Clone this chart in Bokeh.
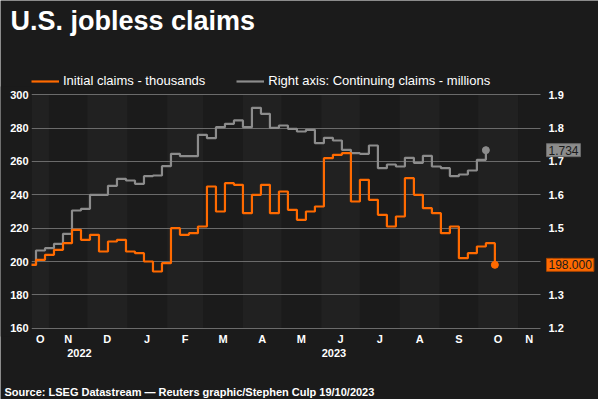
from datetime import datetime
import pandas as pd
from bokeh.plotting import figure
from bokeh.models import (Range1d, LinearAxis, FixedTicker, Label, Legend, LegendItem,
                          BoxAnnotation, ColumnDataSource, CustomJSTickFormatter)
from bokeh.embed import file_html
from bokeh.resources import INLINE

# ---------------- data ----------------
TITLE = "U.S. jobless claims"
SOURCE = "Source: LSEG Datastream \u2014 Reuters graphic/Stephen Culp 19/10/2023"
LEGEND_LABELS = ["Initial claims - thousands", "Right axis: Continuing claims - millions"]
FIRST_WEEK = "2022-10-15"   # weekly, week-ending dates

initial_claims = [198, 201, 204, 207, 211, 219, 213, 216, 206, 212, 213, 206, 205, 200,
                  194, 199, 220, 216, 217, 221, 245, 230, 247, 246, 229, 240, 246, 229,
                  242, 231, 225, 230, 233, 262, 264, 265, 236, 249, 237, 228, 221, 227,
                  250, 240, 232, 229, 217, 221, 202, 205, 209, 211, 198]
continuing_claims = [1.390, 1.433, 1.440, 1.453, 1.483, 1.553, 1.558, 1.600, 1.600, 1.627,
                     1.648, 1.643, 1.633, 1.656, 1.658, 1.686, 1.723, 1.716, 1.716, 1.780,
                     1.770, 1.803, 1.813, 1.823, 1.803, 1.861, 1.843, 1.801, 1.808, 1.798,
                     1.790, 1.795, 1.755, 1.771, 1.763, 1.735, 1.725, 1.723, 1.748, 1.680,
                     1.691, 1.685, 1.711, 1.696, 1.717, 1.685, 1.680, 1.656, 1.661, 1.673,
                     1.705, 1.734]
left_ticks = [160, 180, 200, 220, 240, 260, 280, 300]
right_ticks = [1.2, 1.3, 1.4, 1.5, 1.6, 1.7, 1.8, 1.9]
month_letters = ["O", "N", "D", "J", "F", "M", "A", "M", "J", "J", "A", "S", "O", "N"]
year_labels = ["2022", "2023"]

weeks_init = pd.date_range(FIRST_WEEK, periods=len(initial_claims), freq="7D")
weeks_cont = weeks_init[:len(continuing_claims)]

X_PLOT_START = datetime(2022, 10, 18, 12)
X_PLOT_END = datetime(2023, 11, 18, 12)
EPOCH = datetime(1970, 1, 1)


def ms(d):
    return (pd.Timestamp(d).to_pydatetime() - EPOCH).total_seconds() * 1000.0


# ---------------- layout & style ----------------
W, H = 598, 399
PL, PR, PT, PB = 31.0, 540.0, 94.3, 327.7      # plot area in canvas pixels

BG = "#1b1b1b"
BAND = "#212121"
GRID = "#6b6b6b"
ORANGE = "#ff6a00"
GRAY = "#8c8c8c"
FONT = "Liberation Sans"

xs, xe = ms(X_PLOT_START), ms(X_PLOT_END)
ms_per_px = (xe - xs) / (PR - PL)
x_range = Range1d(xs - PL * ms_per_px, xe + (W - PR) * ms_per_px)

ly0, ly1 = left_ticks[0], left_ticks[-1]
lupp = (ly1 - ly0) / (PB - PT)
y_range = Range1d(ly0 - (H - PB) * lupp, ly1 + PT * lupp)

ry0, ry1 = right_ticks[0], right_ticks[-1]
rupp = (ry1 - ry0) / (PB - PT)
right_range = Range1d(ry0 - (H - PB) * rupp, ry1 + PT * rupp)

p = figure(width=W, height=H, x_axis_type="datetime", title=None,
           x_range=x_range, y_range=y_range,
           output_backend="svg", toolbar_location=None,
           min_border=0, min_border_left=0, min_border_right=0,
           min_border_top=0, min_border_bottom=0,
           background_fill_color=BG, border_fill_color=BG,
           outline_line_color=None)
p.extra_y_ranges = {"right": right_range}

# month bands
month_starts = pd.date_range("2022-10-01", periods=len(month_letters) + 1, freq="MS")
for i in range(len(month_letters)):
    if i % 2 == 0:
        p.add_layout(BoxAnnotation(left=max(ms(month_starts[i]), xs),
                                   right=min(ms(month_starts[i + 1]), xe),
                                   top=ly1, bottom=ly0,
                                   fill_color=BAND, fill_alpha=1, line_alpha=0, level="image"))

# grid
p.xgrid.visible = False
p.ygrid.ticker = FixedTicker(ticks=left_ticks)
p.ygrid.grid_line_color = GRID
p.ygrid.grid_line_width = 1
p.ygrid.cross_bounds = (xs, xe)


def lookup_formatter(ticks, labels):
    return CustomJSTickFormatter(args=dict(t=ticks, l=labels), code="""
        let best = 0, bd = Infinity;
        for (let i = 0; i < t.length; i++) {
            const d = Math.abs(t[i] - tick);
            if (d < bd) { bd = d; best = i; }
        }
        return l[best];
    """)


def style_axis(ax, standoff):
    ax.axis_line_color = None
    ax.major_tick_line_color = None
    ax.minor_tick_line_color = None
    ax.major_tick_out = 0
    ax.major_tick_in = 0
    ax.minor_tick_out = 0
    ax.minor_tick_in = 0
    ax.major_label_text_color = "white"
    ax.major_label_text_font = FONT
    ax.major_label_text_font_style = "bold"
    ax.major_label_text_font_size = "11px"
    ax.major_label_standoff = standoff


# month axis (bottom of plot area)
month_ticks = []
for i in range(len(month_letters)):
    a = max(ms(month_starts[i]), xs)
    b = min(ms(month_starts[i + 1]), xe)
    month_ticks.append((a + b) / 2)
xa = p.xaxis[0]
xa.ticker = FixedTicker(ticks=month_ticks)
xa.formatter = lookup_formatter(month_ticks, month_letters)
xa.fixed_location = ly0
style_axis(xa, 5)

# year axis
year_ticks = []
for y in year_labels:
    a = max(ms(datetime(int(y), 1, 1)), xs)
    b = min(ms(datetime(int(y) + 1, 1, 1)), xe)
    year_ticks.append((a + b) / 2)
ya_axis = LinearAxis(ticker=FixedTicker(ticks=year_ticks),
                     formatter=lookup_formatter(year_ticks, year_labels),
                     fixed_location=ly0)
style_axis(ya_axis, 21)
p.add_layout(ya_axis, "below")

# left axis
la = p.yaxis[0]
la.ticker = FixedTicker(ticks=left_ticks)
la.fixed_location = xs
style_axis(la, 3)

# right axis
ra = LinearAxis(y_range_name="right", ticker=FixedTicker(ticks=right_ticks),
                formatter=CustomJSTickFormatter(code="return tick.toFixed(1);"),
                fixed_location=xe)
style_axis(ra, 8)
p.add_layout(ra, "right")

# series
src_c = ColumnDataSource(dict(x=weeks_cont, y=continuing_claims))
src_i = ColumnDataSource(dict(x=weeks_init, y=initial_claims))
r_gray = p.step("x", "y", source=src_c, mode="after", line_color=GRAY, line_width=2.2,
                y_range_name="right")
r_orange = p.step("x", "y", source=src_i, mode="after", line_color=ORANGE, line_width=2.2)
p.scatter(x=[weeks_cont[-1]], y=[continuing_claims[-1]], size=7, color=GRAY,
          y_range_name="right")
p.scatter(x=[weeks_init[-1]], y=[initial_claims[-1]], size=7, color=ORANGE)

# hide the part of the first week that lies left of the plot area
p.add_layout(BoxAnnotation(left=x_range.start, right=xs, top=ly1 + 5, bottom=ly0 - 5,
                           fill_color=BG, fill_alpha=1, line_alpha=0, level="glyph"))

# end value labels
p.add_layout(Label(x=PR + 6, y=initial_claims[-1], x_units="screen", y_units="data",
                   text=f"{initial_claims[-1]:.3f}", text_font=FONT, text_font_size="12px",
                   text_color="#1b1b1b", text_baseline="middle", text_align="left",
                   background_fill_color=ORANGE, border_line_color="#a84500",
                   padding=2))
p.add_layout(Label(x=PR + 6, y=continuing_claims[-1], x_units="screen", y_units="data",
                   y_range_name="right",
                   text=f"{continuing_claims[-1]:.3f}", text_font=FONT, text_font_size="12px",
                   text_color="#1b1b1b", text_baseline="middle", text_align="left",
                   background_fill_color=GRAY, border_line_color="#6a6a6a",
                   padding=2))

# legend
legend = Legend(items=[LegendItem(label=LEGEND_LABELS[0], renderers=[r_orange]),
                       LegendItem(label=LEGEND_LABELS[1], renderers=[r_gray])],
                orientation="horizontal", location=(PL, H - 88),
                label_text_color="white", label_text_font=FONT,
                label_text_font_size="13px", glyph_width=28, glyph_height=14,
                label_height=14, label_standoff=4, spacing=31, padding=0, margin=0,
                background_fill_alpha=0, border_line_alpha=0)
p.add_layout(legend)

# title & source
p.add_layout(Label(x=10, y=H - 20.6, x_units="screen", y_units="screen",
                   text=TITLE, text_font=FONT, text_font_size="27px",
                   text_font_style="bold", text_color="white",
                   text_baseline="middle"))
p.add_layout(Label(x=4, y=H - 391.2, x_units="screen", y_units="screen",
                   text=SOURCE, text_font=FONT, text_font_size="11px",
                   text_font_style="bold", text_color="white",
                   text_baseline="middle"))

open("out.html", "w").write(file_html(p, INLINE))
